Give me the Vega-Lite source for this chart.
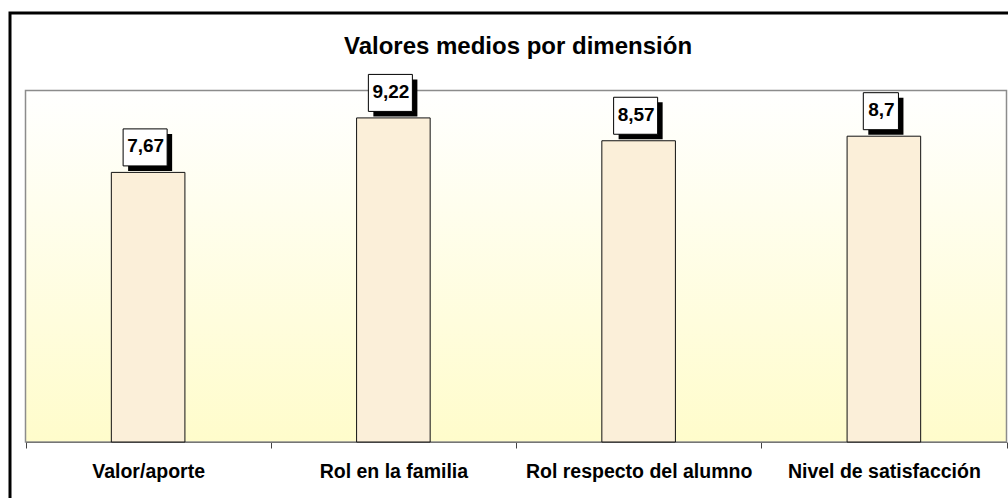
{
  "$schema": "https://vega.github.io/schema/vega-lite/v6.json",
  "width": 1010,
  "height": 495,
  "autosize": {"type": "none"},
  "padding": {"left": 10, "top": 13, "right": -12, "bottom": -10},
  "background": "white",
  "view": {"stroke": "black", "strokeWidth": 3, "fill": "white"},
  "title": {
    "text": "Valores medios por dimensión",
    "font": "Liberation Sans",
    "fontSize": 24,
    "fontWeight": "bold",
    "color": "black",
    "anchor": "middle",
    "frame": "group",
    "baseline": "alphabetic",
    "offset": -65,
    "dx": 3
  },
  "datasets": {
    "main": [
      {"cat": "Valor/aporte", "value": 7.67, "label": "7,67"},
      {"cat": "Rol en la familia", "value": 9.22, "label": "9,22"},
      {"cat": "Rol respecto del alumno", "value": 8.57, "label": "8,57"},
      {"cat": "Nivel de satisfacción", "value": 8.7, "label": "8,7"}
    ],
    "bg": [{"k": "plot"}]
  },
  "layer": [
    {
      "data": {"name": "bg"},
      "mark": {
        "type": "rect",
        "fill": {
          "gradient": "linear",
          "x1": 0, "y1": 0, "x2": 0, "y2": 1,
          "stops": [
            {"offset": 0, "color": "#ffffff"},
            {"offset": 1, "color": "#fffccb"}
          ]
        },
        "stroke": "#8c8c8c",
        "strokeWidth": 1.5
      },
      "encoding": {
        "x": {
          "field": "k",
          "type": "nominal",
          "scale": {"range": [15.5, 996.5], "paddingInner": 0, "paddingOuter": 0},
          "axis": null
        },
        "y": {
          "datum": 0,
          "type": "quantitative",
          "scale": {"domain": [0, 10], "range": [429, 77.5], "nice": false, "zero": true},
          "axis": null
        },
        "y2": {"datum": 10}
      }
    },
    {
      "data": {"name": "main"},
      "encoding": {
        "x": {
          "field": "cat",
          "type": "nominal",
          "sort": null,
          "scale": {"range": [15.5, 996.5], "paddingInner": 0, "paddingOuter": 0},
          "axis": {
            "title": null,
            "orient": "bottom",
            "offset": -66,
            "tickBand": "extent",
            "tickSize": 6,
            "tickColor": "#444444",
            "domainColor": "#333333",
            "domainWidth": 1,
            "labelFont": "Liberation Sans",
            "labelFontSize": 19.5,
            "labelFontWeight": "bold",
            "labelColor": "black",
            "labelPadding": 14,
            "labelAngle": 0,
            "labelLimit": 400,
            "labelOverlap": false,
            "grid": false
          }
        },
        "y": {"field": "value", "type": "quantitative", "axis": null}
      },
      "layer": [
        {
          "mark": {"type": "bar", "width": {"band": 0.3}, "fill": "#fbefd9", "stroke": "#111111", "strokeWidth": 1}
        },
        {
          "mark": {"type": "point", "filled": true, "fill": "black", "strokeWidth": 0, "opacity": 1, "size": 1369, "xOffset": 2, "yOffset": -20},
          "encoding": {
            "shape": {
              "condition": {"test": "length(datum.label) > 3", "value": "M-1.19,-1L1.19,-1L1.19,1L-1.19,1Z"},
              "value": "M-0.95,-1L0.95,-1L0.95,1L-0.95,1Z"
            }
          }
        },
        {
          "mark": {"type": "point", "filled": true, "fill": "white", "stroke": "black", "strokeWidth": 1, "opacity": 1, "size": 1369, "xOffset": -3, "yOffset": -25},
          "encoding": {
            "shape": {
              "condition": {"test": "length(datum.label) > 3", "value": "M-1.19,-1L1.19,-1L1.19,1L-1.19,1Z"},
              "value": "M-0.95,-1L0.95,-1L0.95,1L-0.95,1Z"
            }
          }
        },
        {
          "mark": {"type": "text", "font": "Liberation Sans", "fontSize": 19, "fontWeight": "bold", "color": "black", "align": "center", "baseline": "middle", "xOffset": -2.5, "yOffset": -26},
          "encoding": {"text": {"field": "label"}}
        }
      ]
    }
  ],
  "resolve": {"scale": {"x": "independent"}, "axis": {"x": "independent"}}
}
